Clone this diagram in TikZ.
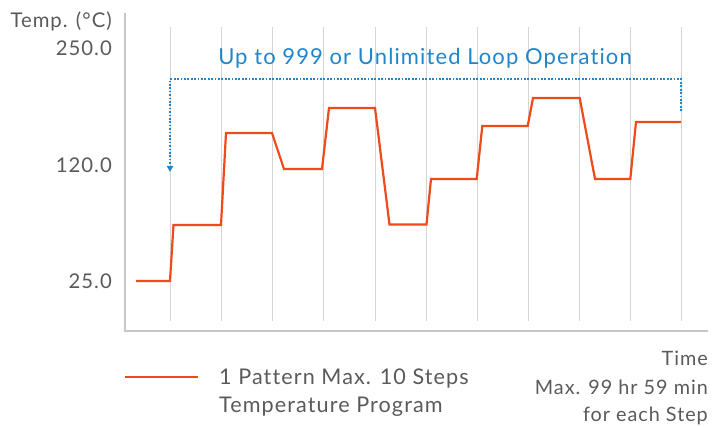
\documentclass[tikz,border=0pt]{standalone}
\usepackage{fontspec}
\setmainfont{Lato}[LetterSpace=5, Ligatures={NoCommon}]
\usetikzlibrary{arrows.meta}
\definecolor{txtgray}{HTML}{5A5A5A}
\definecolor{gridgray}{HTML}{D4D4D4}
\definecolor{axisgray}{HTML}{C6C6C6}
\definecolor{progorange}{HTML}{EE4A1A}
\definecolor{loopblue}{HTML}{1F86CC}
\begin{document}
\begin{tikzpicture}[x=1pt,y=-1pt,
  lbl/.style={font=\fontsize{20.3}{24}\selectfont, text=txtgray, inner sep=0pt},
  leglbl/.style={lbl, font=\fontsize{21.6}{26}\selectfont},
  timelbl/.style={lbl, font=\fontsize{19.8}{24}\selectfont},
  looplbl/.style={lbl, font=\fontsize{22}{26}\selectfont, text=loopblue},
  gridline/.style={draw=gridgray, line width=1pt},
  axisline/.style={draw=axisgray, line width=1.6pt},
  prog/.style={draw=progorange, line width=2.2pt, line join=miter},
  loopline/.style={draw=loopblue, line width=1.8pt, dash pattern=on 1.7pt off 1.7pt,
     -{Triangle[length=6pt,width=6pt]}}]
\useasboundingbox (0,0) rectangle (728,427);
% grid
\foreach \gx in {170,221,272,323,375,426,477,528,579,630,681}
  \draw[gridline] (\gx,27) -- (\gx,321);
% axes
\draw[axisline] (125,13) -- (125,331) -- (708,331);
% program curve
\draw[prog] (136,281) -- (170,281) -- (173.5,225) -- (221,225) -- (226,133) -- (272,133)
  -- (284,169) -- (322,169) -- (329,108) -- (375,108) -- (389.5,224.5) -- (426.5,224.5)
  -- (431,179) -- (476.7,179) -- (482.3,126) -- (527.7,126) -- (533,98) -- (579.7,98)
  -- (595,179) -- (630.3,179) -- (636,122) -- (681,122);
% loop
\coordinate (loopR) at (681,111);
\coordinate (loopTR) at (681,79.3);
\coordinate (loopTL) at (170,79.3);
\coordinate (loopL) at (170,172);
\draw[loopline] (loopR) -- (loopTR) -- (loopTL) -- (loopL);
\node[looplbl, anchor=base] (looptxt) at (425,65) {Up to 999 or Unlimited Loop Operation};
% axis labels
\node[lbl, anchor=base east] (ylab) at (112,27.3) {Temp. (°C)};
\node[lbl, anchor=base east] (y250) at (112,56) {250.0};
\node[lbl, anchor=base east] (y120) at (112,172.7) {120.0};
\node[lbl, anchor=base east] (y25) at (112,289) {25.0};
% legend
\coordinate (legA) at (125,377);
\coordinate (legB) at (198,377);
\draw[prog] (legA) -- (legB);
\node[leglbl, anchor=base west] (leg1) at (219,384.7) {1 Pattern Max. 10 Steps};
\node[leglbl, anchor=base west] (leg2) at (219,412) {Temperature Program};
% time labels
\node[timelbl, anchor=base east] (t1) at (708,366) {Time};
\node[timelbl, anchor=base east] (t2) at (708,394) {Max. 99 hr 59 min};
\node[timelbl, anchor=base east] (t3) at (708,421) {for each Step};
\end{tikzpicture}
\end{document}
